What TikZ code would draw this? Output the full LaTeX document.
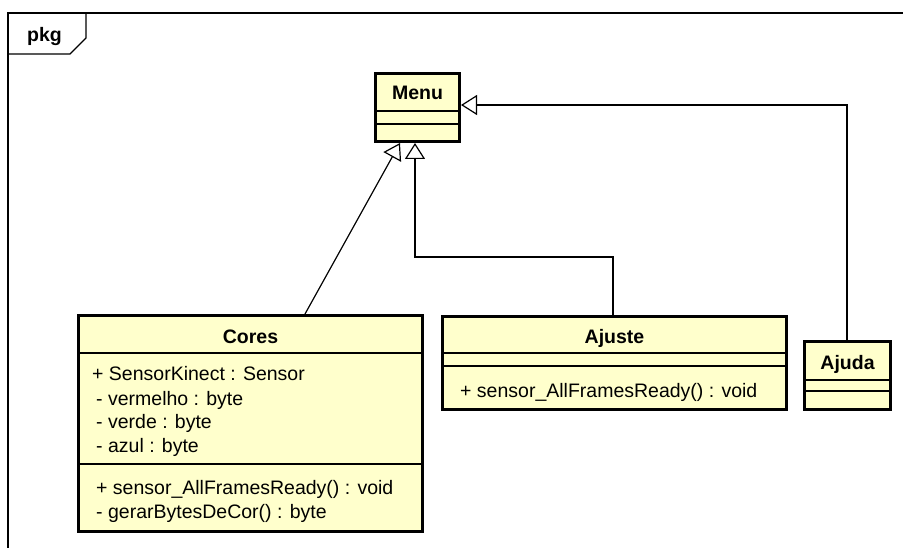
\documentclass[tikz,border=0pt]{standalone}
\usepackage{fontspec}
\setmainfont{Liberation Sans}
\usetikzlibrary{arrows.meta,calc}
\definecolor{classfill}{HTML}{FFFFCC}
\tikzset{
  classbox/.style={draw=black, line width=3pt, fill=classfill, rectangle, inner sep=0pt, anchor=north west},
  sepline/.style={line width=1.2pt},
  gen/.style={line width=1.2pt, -{Triangle[open,length=16pt,width=20pt,line width=1.2pt]}},
  cname/.style={font=\fontsize{19.5}{23}\selectfont\bfseries, inner sep=0pt, anchor=base},
  member/.style={font=\fontsize{19.5}{23}\selectfont, inner sep=0pt, anchor=base west},
}
\begin{document}
\begin{tikzpicture}[x=1pt,y=-1pt]
\useasboundingbox (0,0) rectangle (903,548);
% package frame with its name tab
\draw[line width=1.2pt] (903,13) -- (8,13) -- (8,548);
\draw[line width=1.2pt] (8,54) -- (70,54) -- (86,38) -- (86,13);
\node[cname] (pkg) at (44.5,42) {pkg};

% class boxes
\node[classbox, minimum width=84pt, minimum height=68pt] (menu) at (374,72) {};
\node[classbox, minimum width=344pt, minimum height=216pt] (cores) at (77,314) {};
\node[classbox, minimum width=344pt, minimum height=93pt] (ajuste) at (441,315) {};
\node[classbox, minimum width=86pt, minimum height=68pt] (ajuda) at (803,340) {};

% compartment separators
\draw[sepline] (menu.west |- 0,111) -- (menu.east |- 0,111);
\draw[sepline] (menu.west |- 0,124) -- (menu.east |- 0,124);
\draw[sepline] (cores.west |- 0,353) -- (cores.east |- 0,353);
\draw[sepline] (cores.west |- 0,464) -- (cores.east |- 0,464);
\draw[sepline] (ajuste.west |- 0,353) -- (ajuste.east |- 0,353);
\draw[sepline] (ajuste.west |- 0,366) -- (ajuste.east |- 0,366);
\draw[sepline] (ajuda.west |- 0,380) -- (ajuda.east |- 0,380);
\draw[sepline] (ajuda.west |- 0,391) -- (ajuda.east |- 0,391);

% class names
\node[cname] (menuname) at (417.5,100) {Menu};
\node[cname] (coresname) at (250.5,343) {Cores};
\node[cname] (ajustename) at (614.5,343) {Ajuste};
\node[cname] (ajudaname) at (847.5,369) {Ajuda};

% members
\node[member] (c1) at (92,381) {+ SensorKinect : Sensor};
\node[member] (c2) at (96,405) {- vermelho : byte};
\node[member] (c3) at (96,428) {- verde : byte};
\node[member] (c4) at (96,452) {- azul : byte};
\node[member] (c5) at (96,494) {+ sensor\_AllFramesReady() : void};
\node[member] (c6) at (96,518) {- gerarBytesDeCor() : byte};
\node[member] (a1) at (460,397) {+ sensor\_AllFramesReady() : void};

% generalizations
\draw[gen] ([xshift=228pt]cores.north west) -- ([xshift=26pt]menu.south west);
\draw[gen] ([xshift=172pt]ajuste.north west) -- ++(0,-58) -| ([xshift=41pt]menu.south west);
\draw[gen] ([xshift=44pt]ajuda.north west) |- ([yshift=-33pt]menu.north east);
\end{tikzpicture}
\end{document}
